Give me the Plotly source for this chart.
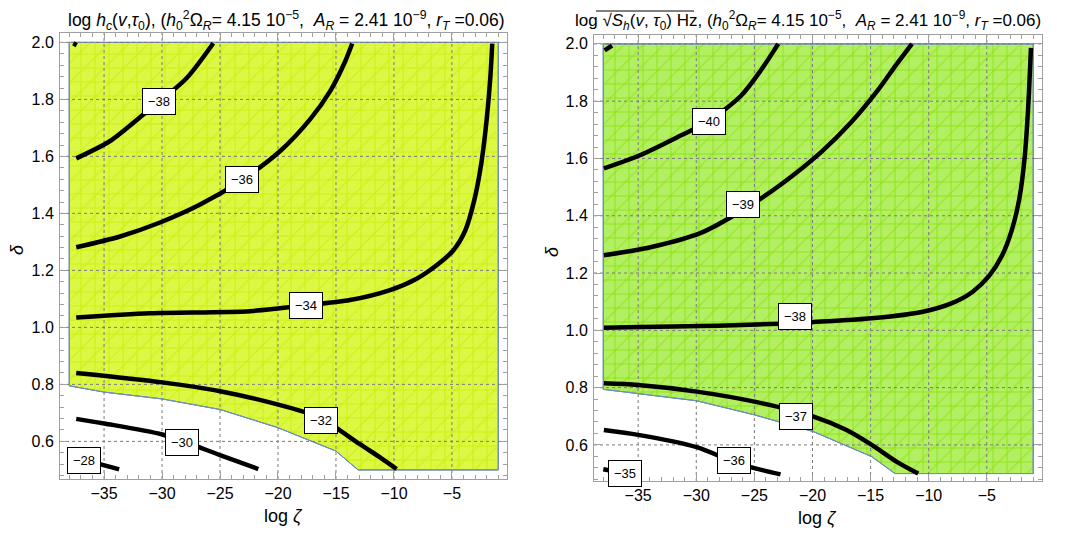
import plotly.graph_objects as go

W, H = 1081, 540
OFF = 8  # page margin of the browser body, in px
FONT = "Liberation Sans"

# ---------------- data ----------------
x_ticks = [-35, -30, -25, -20, -15, -10, -5]
y_ticks = [0.6, 0.8, 1.0, 1.2, 1.4, 1.6, 1.8, 2.0]

# left panel: log h_c -- region where it is defined
hc_region_z = [-38, -35, -30, -25, -20, -15, -13.1, -1, -1, -38, -38]
hc_region_d = [0.795, 0.773, 0.749, 0.712, 0.648, 0.566, 0.5, 0.5, 2.0, 2.0, 0.795]

hc_m40_z = [-37.65, -37.36]
hc_m40_d = [1.997, 1.99]
hc_m38_z = [-37.4, -34.48, -31.61, -30.17, -27.87, -25.58]
hc_m38_d = [1.593, 1.654, 1.747, 1.794, 1.875, 1.997]
hc_m36_z = [-37.4, -33.62, -30.17, -26.72, -23.09, -19.81, -17.22, -15.5, -14.21, -13.6]
hc_m36_d = [1.281, 1.319, 1.368, 1.431, 1.518, 1.619, 1.731, 1.829, 1.933, 1.996]
hc_m34_z = [-37.4, -31.03, -22.41, -17.53, -13.79, -10.34, -8.04, -6.32, -4.89,
            -3.85, -3.05, -2.45, -2.0, -1.7, -1.52]
hc_m34_d = [1.035, 1.05, 1.057, 1.078, 1.096, 1.131, 1.171, 1.218, 1.27,
            1.34, 1.45, 1.58, 1.73, 1.87, 1.996]
hc_m32_z = [-37.4, -29.97, -25.0, -19.97, -16.38, -15.0, -12.93, -11.2, -9.77]
hc_m32_d = [0.84, 0.807, 0.776, 0.729, 0.684, 0.648, 0.59, 0.544, 0.503]
hc_m30_z = [-37.4, -35.0, -29.97, -25.0, -21.7]
hc_m30_d = [0.679, 0.663, 0.624, 0.552, 0.503]
hc_m28_z = [-37.4, -35.5, -33.7]
hc_m28_d = [0.545, 0.522, 0.502]

hc_label_text = ["−38", "−36", "−34", "−32", "−30", "−28"]
hc_label_z = [-30.26, -23.09, -17.61, -16.32, -28.3, -36.75]
hc_label_d = [1.791, 1.518, 1.078, 0.673, 0.595, 0.534]

# right panel: log sqrt(S_h Hz)
sh_region_z = [-38, -35, -29.96, -25, -19.9, -14.9, -12.9, -1, -1, -38, -38]
sh_region_d = [0.794, 0.78, 0.754, 0.705, 0.646, 0.559, 0.5, 0.5, 2.0, 2.0, 0.794]

sh_m42_z = [-37.89, -37.25]
sh_m42_d = [1.977, 1.994]
sh_m40_z = [-37.95, -34.8, -31.34, -28.91, -26.15, -24.42, -22.95]
sh_m40_d = [1.565, 1.612, 1.68, 1.731, 1.819, 1.909, 2.0]
sh_m39_z = [-37.95, -33.94, -29.61, -25.98, -22.69, -19.23, -16.63, -14.47, -12.74, -11.44]
sh_m39_d = [1.262, 1.29, 1.34, 1.42, 1.51, 1.623, 1.728, 1.833, 1.93, 2.0]
sh_m38_z = [-37.95, -34.8, -29.61, -21.47, -14.65, -10.5, -8.0, -6.24, -4.8,
            -3.7, -2.85, -2.2, -1.75, -1.45, -1.2]
sh_m38_d = [1.009, 1.012, 1.015, 1.026, 1.043, 1.065, 1.095, 1.134, 1.19,
            1.26, 1.35, 1.46, 1.6, 1.77, 1.986]
sh_m37_z = [-37.95, -35.0, -29.96, -25.0, -19.9, -17.07, -14.9, -12.74, -10.9]
sh_m37_d = [0.815, 0.809, 0.786, 0.751, 0.699, 0.652, 0.6, 0.541, 0.5]
sh_m36_z = [-37.95, -35.0, -29.96, -26.87, -25.0, -22.75]
sh_m36_d = [0.652, 0.635, 0.592, 0.542, 0.519, 0.497]
sh_m35_z = [-38.0, -36.2, -34.9]
sh_m35_d = [0.515, 0.502, 0.493]

sh_label_text = ["−40", "−39", "−38", "−37", "−36", "−35"]
sh_label_z = [-28.9, -25.98, -21.47, -21.38, -26.73, -36.16]
sh_label_d = [1.728, 1.438, 1.05, 0.698, 0.545, 0.501]

x_range = [-38.8, -0.25]
y_range_l = [0.468, 2.033]
y_range_r = [0.474, 2.031]


def px_x(p):
    return (p - OFF) / W


def px_y(p):
    return 1 - (p - OFF) / H


# ---------------- figure ----------------
fig = go.Figure()


def add_panel(xa, ya, yr, reg_z, reg_d, base, mesh, curves):
    # filled region; three hatch layers give the triangular mesh look
    for k, shape in enumerate(["|", "-", "/"]):
        fig.add_trace(go.Scatter(
            x=reg_z, y=reg_d, xaxis=xa, yaxis=ya, mode="lines", fill="toself",
            fillcolor=base if k == 0 else "rgba(0,0,0,0)",
            fillpattern=dict(shape=shape, size=14, fgcolor=mesh,
                             bgcolor=base if k == 0 else "rgba(0,0,0,0)",
                             solidity=0.1),
            line=dict(color="#6f8fc2", width=1),
            hoverinfo="skip", showlegend=False))
    # dashed grid drawn above the fill
    gx, gy = [], []
    for v in x_ticks:
        gx += [v, v, None]
        gy += [yr[0], yr[1], None]
    for v in y_ticks:
        gx += [x_range[0], x_range[1], None]
        gy += [v, v, None]
    fig.add_trace(go.Scatter(x=gx, y=gy, xaxis=xa, yaxis=ya, mode="lines",
                             line=dict(color="#7a7a7a", width=1, dash="3px,3px"),
                             hoverinfo="skip", showlegend=False))
    for cz, cd in curves:
        fig.add_trace(go.Scatter(x=cz, y=cd, xaxis=xa, yaxis=ya, mode="lines",
                                 line=dict(color="black", width=4.5, shape="spline",
                                           smoothing=0.8),
                                 showlegend=False))


add_panel("x", "y", y_range_l, hc_region_z, hc_region_d, "#dcf744", "#c8ec00",
          [(hc_m40_z, hc_m40_d), (hc_m38_z, hc_m38_d), (hc_m36_z, hc_m36_d),
           (hc_m34_z, hc_m34_d), (hc_m32_z, hc_m32_d), (hc_m30_z, hc_m30_d),
           (hc_m28_z, hc_m28_d)])
add_panel("x2", "y2", y_range_r, sh_region_z, sh_region_d, "#b3ef63", "#84e000",
          [(sh_m42_z, sh_m42_d), (sh_m40_z, sh_m40_d), (sh_m39_z, sh_m39_d),
           (sh_m38_z, sh_m38_d), (sh_m37_z, sh_m37_d), (sh_m36_z, sh_m36_d),
           (sh_m35_z, sh_m35_d)])

annotations = []
for txt, z, d in zip(hc_label_text, hc_label_z, hc_label_d):
    annotations.append(dict(x=z, y=d, xref="x", yref="y", text=txt, showarrow=False,
                            font=dict(family=FONT, size=13, color="black"),
                            bgcolor="white", bordercolor="black", borderwidth=1,
                            borderpad=5))
for txt, z, d in zip(sh_label_text, sh_label_z, sh_label_d):
    annotations.append(dict(x=z, y=d, xref="x2", yref="y2", text=txt, showarrow=False,
                            font=dict(family=FONT, size=13, color="black"),
                            bgcolor="white", bordercolor="black", borderwidth=1,
                            borderpad=5))

params = ("(<i>h</i><sub>0</sub><sup>2</sup>Ω<sub><i>R</i></sub>= 4.15 10<sup>−5</sup>,"
          "  <i>A<sub>R</sub></i> = 2.41 10<sup>−9</sup>, <i>r<sub>T</sub></i> =0.06)")
annotations.append(dict(x=px_x(286), y=1 - 12 / H, xref="paper", yref="paper",
                        xanchor="center", yanchor="middle",
                        text="log <i>h<sub>c</sub></i>(<i>v</i>,<i>τ</i><sub>0</sub>), " + params,
                        showarrow=False,
                        font=dict(family=FONT, size=17.5, color="black")))
annotations.append(dict(x=px_x(808), y=1 - 12 / H, xref="paper", yref="paper",
                        xanchor="center", yanchor="middle",
                        text="log √<i>S<sub>h</sub></i>(<i>v</i>, <i>τ</i><sub>0</sub>) Hz, " + params,
                        showarrow=False,
                        font=dict(family=FONT, size=17, color="black")))

# axis titles
axis_font = dict(family=FONT, size=18, color="black")
for xp, yp in [(283, 516), (817, 518)]:
    annotations.append(dict(x=px_x(xp), y=px_y(yp), xref="paper", yref="paper",
                            xanchor="center", yanchor="middle", text="log <i>ζ</i>",
                            showarrow=False, font=axis_font))
for xp, yp in [(17, 250), (552, 252)]:
    annotations.append(dict(x=px_x(xp), y=px_y(yp), xref="paper", yref="paper",
                            xanchor="center", yanchor="middle", text="<i>δ</i>",
                            textangle=-90, showarrow=False, font=axis_font))

# vinculum of the square root in the right title
shapes = [dict(type="line", xref="paper", yref="paper", x0=px_x(596), x1=px_x(694),
               y0=1 - 3 / H, y1=1 - 3 / H, line=dict(color="black", width=1))]


def xaxis(dom):
    return dict(domain=dom, range=x_range, tickvals=x_ticks, showgrid=False,
                zeroline=False, showline=True, linecolor="#a0a0a0", mirror="ticks",
                ticks="inside", ticklen=7, tickcolor="#a0a0a0", automargin=False,
                minor=dict(ticks="inside", ticklen=4, dtick=1, tickcolor="#a0a0a0"),
                tickfont=dict(family=FONT, size=16, color="black"))


def yaxis(dom, rng, anchor):
    return dict(domain=dom, range=rng, anchor=anchor, tickvals=y_ticks,
                tickformat=".1f", showgrid=False, zeroline=False, showline=True,
                linecolor="#a0a0a0", mirror="ticks", ticks="inside", ticklen=7,
                tickcolor="#a0a0a0", automargin=False, ticklabelstandoff=2,
                minor=dict(ticks="inside", ticklen=4, dtick=0.04, tickcolor="#a0a0a0"),
                tickfont=dict(family=FONT, size=16, color="black"))


fig.update_layout(
    width=W, height=H,
    margin=dict(l=0, r=0, t=0, b=0),
    paper_bgcolor="white", plot_bgcolor="white",
    xaxis=dict(xaxis([px_x(60), px_x(507)]), anchor="y"),
    yaxis=yaxis([px_y(479), px_y(33)], y_range_l, "x"),
    xaxis2=dict(xaxis([px_x(594), px_x(1042)]), anchor="y2"),
    yaxis2=yaxis([px_y(481), px_y(35)], y_range_r, "x2"),
    annotations=annotations,
    shapes=shapes,
    showlegend=False,
)

fig.write_html("out.html")
